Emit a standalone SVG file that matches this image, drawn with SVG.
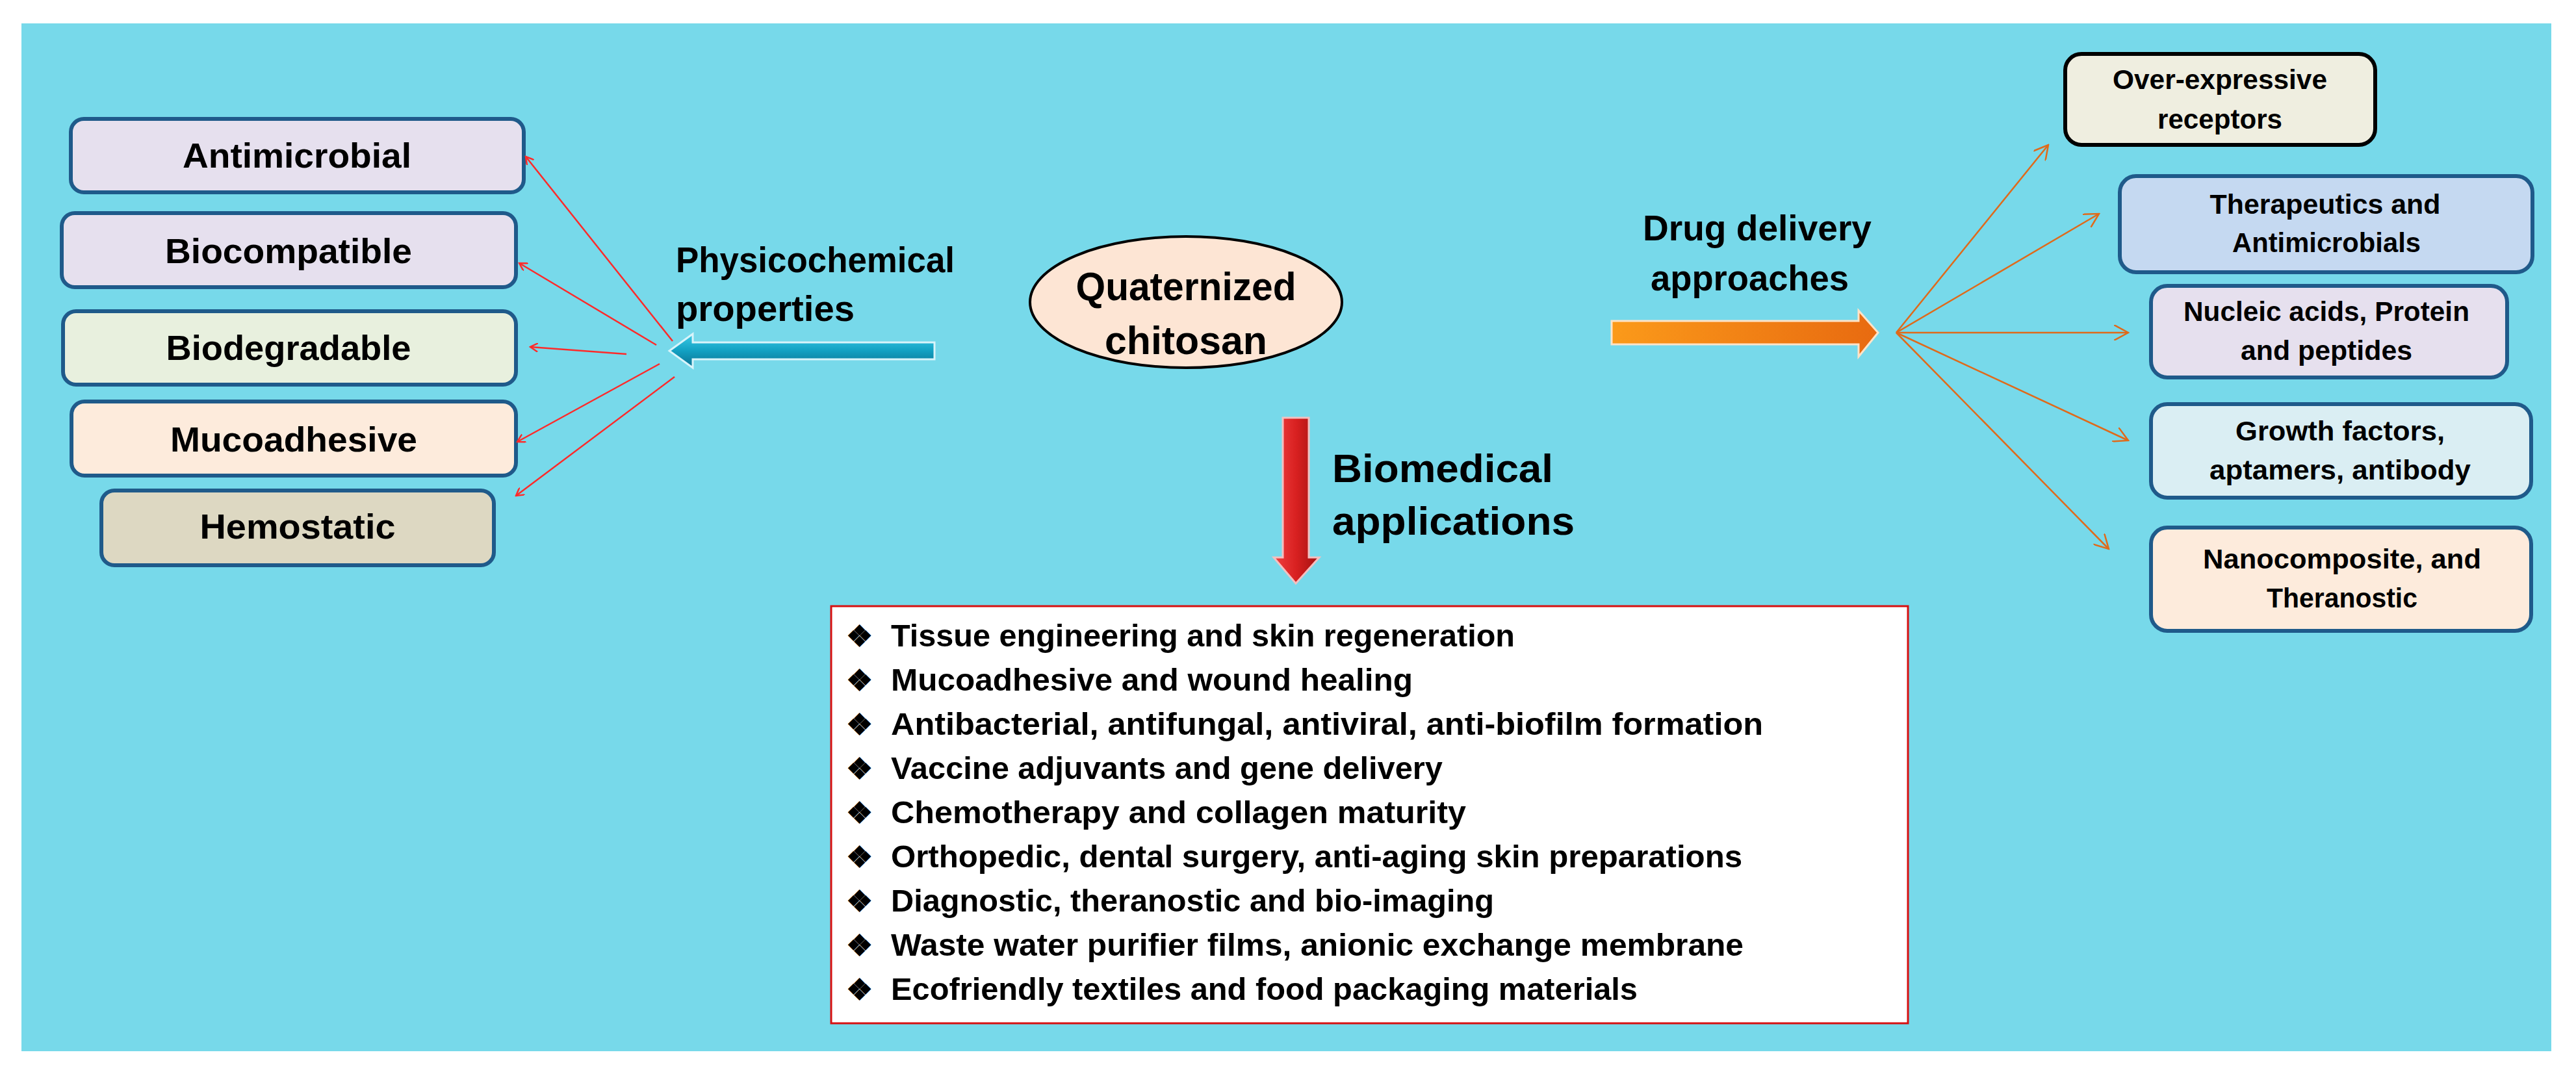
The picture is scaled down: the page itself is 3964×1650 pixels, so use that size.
<svg xmlns="http://www.w3.org/2000/svg" width="3964" height="1650" viewBox="0 0 3964 1650">
<style>
text{font-family:"Liberation Sans",Arial,sans-serif;font-weight:bold;fill:#000}
.lb{stroke:#1f5a8a;stroke-width:6}
.lt{font-size:54px}
.rt{font-size:42px}
.hd{font-size:56px}
.it{font-size:48px}
.red{stroke:#ff2a2a;stroke-width:2.5;fill:none}
.org{stroke:#e06a1a;stroke-width:2.5;fill:none}
</style>
<defs>
<marker id="mr" markerWidth="14" markerHeight="14" refX="12" refY="7" orient="auto" markerUnits="userSpaceOnUse"><path d="M0,0 L12,7 L0,14" fill="none" stroke="#ff2a2a" stroke-width="2.5"/></marker>
<marker id="mo" markerWidth="24" markerHeight="24" refX="22" refY="12" orient="auto" markerUnits="userSpaceOnUse"><path d="M0,0 L22,12 L0,24" fill="none" stroke="#e06a1a" stroke-width="2.5"/></marker>
<linearGradient id="gt" x1="0" y1="0" x2="0" y2="1"><stop offset="0" stop-color="#3ccbe6"/><stop offset="0.5" stop-color="#12a0c2"/><stop offset="1" stop-color="#0a7090"/></linearGradient>
<linearGradient id="go" x1="0" y1="0" x2="1" y2="0"><stop offset="0" stop-color="#fb9a1a"/><stop offset="1" stop-color="#e86a10"/></linearGradient>
<linearGradient id="gr" x1="0" y1="0" x2="1" y2="0"><stop offset="0" stop-color="#f04040"/><stop offset="0.5" stop-color="#d82020"/><stop offset="1" stop-color="#a01010"/></linearGradient>
</defs>
<rect x="33" y="36" width="3893" height="1582" fill="#77d9ea"/>

<g id="n-antimicrobial"><rect class="lb" x="109" y="183" width="697" height="113" rx="20" fill="#e6e0ee"/><text class="lt" x="457" y="258" text-anchor="middle" textLength="352" lengthAdjust="spacingAndGlyphs">Antimicrobial</text></g>
<g id="n-biocompatible"><rect class="lb" x="95" y="328" width="699" height="114" rx="20" fill="#e6e0ee"/><text class="lt" x="444" y="405" text-anchor="middle" textLength="380" lengthAdjust="spacingAndGlyphs">Biocompatible</text></g>
<g id="n-biodegradable"><rect class="lb" x="97" y="479" width="697" height="113" rx="20" fill="#e8f0de"/><text class="lt" x="444" y="554" text-anchor="middle" textLength="377" lengthAdjust="spacingAndGlyphs">Biodegradable</text></g>
<g id="n-mucoadhesive"><rect class="lb" x="110" y="618" width="684" height="114" rx="20" fill="#fdebdc"/><text class="lt" x="452" y="695" text-anchor="middle" textLength="380" lengthAdjust="spacingAndGlyphs">Mucoadhesive</text></g>
<g id="n-hemostatic"><rect class="lb" x="156" y="755" width="604" height="115" rx="20" fill="#ddd8c2"/><text class="lt" x="458" y="829" text-anchor="middle" textLength="301" lengthAdjust="spacingAndGlyphs">Hemostatic</text></g>

<g id="n-physico"><path d="M1438,527 L1066,527 L1066,514 L1030,540 L1066,566 L1066,553 L1438,553 Z" fill="url(#gt)" stroke="#d8f4fa" stroke-width="3"/><text class="hd" x="1040" y="419" textLength="429" lengthAdjust="spacingAndGlyphs">Physicochemical</text><text class="hd" x="1040" y="494" textLength="275" lengthAdjust="spacingAndGlyphs">properties</text></g>

<g id="n-center"><ellipse cx="1825" cy="465" rx="240" ry="101" fill="#fde5d4" stroke="#000" stroke-width="4"/><text x="1825" y="462" font-size="62" text-anchor="middle" textLength="339" lengthAdjust="spacingAndGlyphs">Quaternized</text><text x="1825" y="545" font-size="62" text-anchor="middle" textLength="250" lengthAdjust="spacingAndGlyphs">chitosan</text></g>

<g id="n-drug"><path d="M2480,494 L2860,494 L2860,478 L2890,512 L2860,549 L2860,530 L2480,530 Z" fill="url(#go)" stroke="#fde3c8" stroke-width="3"/><text class="hd" x="2528" y="370" textLength="352" lengthAdjust="spacingAndGlyphs">Drug delivery</text><text class="hd" x="2540" y="447" textLength="305" lengthAdjust="spacingAndGlyphs">approaches</text></g>

<g id="n-over"><rect x="3178" y="83" width="477" height="140" rx="25" fill="#efeee0" stroke="#000" stroke-width="6"/><text class="rt" x="3416" y="137" text-anchor="middle" textLength="330" lengthAdjust="spacingAndGlyphs">Over-expressive</text><text class="rt" x="3416" y="198" text-anchor="middle" textLength="192" lengthAdjust="spacingAndGlyphs">receptors</text></g>
<g id="n-thera"><rect class="lb" x="3262" y="271" width="635" height="148" rx="25" fill="#c5d9f1"/><text class="rt" x="3578" y="329" text-anchor="middle" textLength="355" lengthAdjust="spacingAndGlyphs">Therapeutics  and</text><text class="rt" x="3580" y="388" text-anchor="middle" textLength="290" lengthAdjust="spacingAndGlyphs">Antimicrobials</text></g>
<g id="n-nucleic"><rect class="lb" x="3310" y="440" width="548" height="141" rx="25" fill="#e6e0ee"/><text class="rt" x="3580" y="494" text-anchor="middle" textLength="440" lengthAdjust="spacingAndGlyphs">Nucleic acids, Protein</text><text class="rt" x="3580" y="554" text-anchor="middle" textLength="264" lengthAdjust="spacingAndGlyphs">and peptides</text></g>
<g id="n-growth"><rect class="lb" x="3310" y="622" width="585" height="144" rx="25" fill="#daeef3"/><text class="rt" x="3601" y="678" text-anchor="middle" textLength="322" lengthAdjust="spacingAndGlyphs">Growth  factors,</text><text class="rt" x="3601" y="738" text-anchor="middle" textLength="402" lengthAdjust="spacingAndGlyphs">aptamers,  antibody</text></g>
<g id="n-nano"><rect class="lb" x="3310" y="812" width="585" height="159" rx="25" fill="#fdebdc"/><text class="rt" x="3604" y="875" text-anchor="middle" textLength="428" lengthAdjust="spacingAndGlyphs">Nanocomposite,  and</text><text class="rt" x="3604" y="935" text-anchor="middle" textLength="232" lengthAdjust="spacingAndGlyphs">Theranostic</text></g>

<g id="n-bio"><path d="M1974,643 L2014,643 L2014,858 L2030,858 L1994,898 L1960,858 L1974,858 Z" fill="url(#gr)" stroke="#f4c0c0" stroke-width="3"/><text x="2050" y="742" font-size="62" textLength="340" lengthAdjust="spacingAndGlyphs">Biomedical</text><text x="2050" y="823" font-size="62" textLength="373" lengthAdjust="spacingAndGlyphs">applications</text></g>

<g id="n-list"><rect x="1279" y="933" width="1657" height="642" fill="#fff" stroke="#d81010" stroke-width="3"/>
<g font-size="46" font-family="DejaVu Sans, sans-serif"><text x="1302" y="995">❖</text><text x="1302" y="1063">❖</text><text x="1302" y="1131">❖</text><text x="1302" y="1199">❖</text><text x="1302" y="1267">❖</text><text x="1302" y="1335">❖</text><text x="1302" y="1403">❖</text><text x="1302" y="1471">❖</text><text x="1302" y="1539">❖</text></g>
<text class="it" x="1371" y="995" textLength="960" lengthAdjust="spacingAndGlyphs">Tissue engineering and skin regeneration</text>
<text class="it" x="1371" y="1063" textLength="803" lengthAdjust="spacingAndGlyphs">Mucoadhesive and wound healing</text>
<text class="it" x="1371" y="1131" textLength="1342" lengthAdjust="spacingAndGlyphs">Antibacterial, antifungal, antiviral, anti-biofilm formation</text>
<text class="it" x="1371" y="1199" textLength="849" lengthAdjust="spacingAndGlyphs">Vaccine adjuvants and gene delivery</text>
<text class="it" x="1371" y="1267" textLength="885" lengthAdjust="spacingAndGlyphs">Chemotherapy  and collagen maturity</text>
<text class="it" x="1371" y="1335" textLength="1310" lengthAdjust="spacingAndGlyphs">Orthopedic, dental surgery, anti-aging skin preparations</text>
<text class="it" x="1371" y="1403" textLength="928" lengthAdjust="spacingAndGlyphs">Diagnostic, theranostic and bio-imaging</text>
<text class="it" x="1371" y="1471" textLength="1312" lengthAdjust="spacingAndGlyphs">Waste water purifier films, anionic exchange membrane</text>
<text class="it" x="1371" y="1539" textLength="1149" lengthAdjust="spacingAndGlyphs">Ecofriendly textiles and food packaging materials</text>
</g>

<g id="connectors">
<line class="red" x1="1035" y1="525" x2="809" y2="241" marker-end="url(#mr)"/>
<line class="red" x1="1010" y1="531" x2="799" y2="405" marker-end="url(#mr)"/>
<line class="red" x1="964" y1="545" x2="816" y2="534" marker-end="url(#mr)"/>
<line class="red" x1="1015" y1="560" x2="796" y2="680" marker-end="url(#mr)"/>
<line class="red" x1="1038" y1="580" x2="794" y2="763" marker-end="url(#mr)"/>
<line class="org" x1="2918" y1="512" x2="3152" y2="223" marker-end="url(#mo)"/>
<line class="org" x1="2918" y1="512" x2="3230" y2="329" marker-end="url(#mo)"/>
<line class="org" x1="2918" y1="512" x2="3275" y2="512" marker-end="url(#mo)"/>
<line class="org" x1="2918" y1="512" x2="3275" y2="678" marker-end="url(#mo)"/>
<line class="org" x1="2918" y1="512" x2="3245" y2="845" marker-end="url(#mo)"/>
</g>
</svg>
